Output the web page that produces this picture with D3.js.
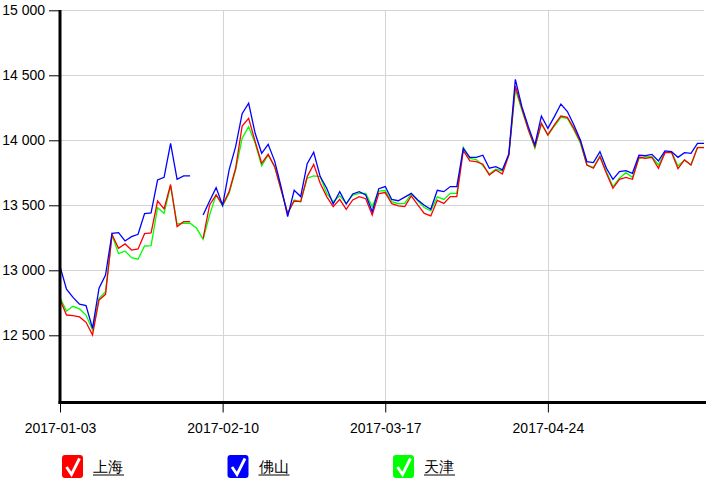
<!DOCTYPE html>
<html>
<head>
<meta charset="utf-8">
<script src="https://cdn.jsdelivr.net/npm/d3@7/dist/d3.min.js"></script>
<style>
  html, body { margin: 0; padding: 0; background: #fff; }
  svg { display: block; }
  text { font-family: "Liberation Sans", Arial, sans-serif; }
</style>
</head>
<body>
<svg id="chart" width="714" height="481"></svg>
<script>
// ---- data ----
const dates = [
  "2017-01-03","2017-01-04","2017-01-05","2017-01-06","2017-01-09","2017-01-10","2017-01-11","2017-01-12","2017-01-13","2017-01-16",
  "2017-01-17","2017-01-18","2017-01-19","2017-01-20","2017-01-22","2017-01-23","2017-01-24","2017-01-25","2017-01-26","2017-02-03",
  "2017-02-04","2017-02-06","2017-02-07","2017-02-08","2017-02-09","2017-02-10","2017-02-13","2017-02-14","2017-02-15","2017-02-16",
  "2017-02-17","2017-02-20","2017-02-21","2017-02-22","2017-02-23","2017-02-24","2017-02-27","2017-02-28","2017-03-01","2017-03-02",
  "2017-03-03","2017-03-06","2017-03-07","2017-03-08","2017-03-09","2017-03-10","2017-03-13","2017-03-14","2017-03-15","2017-03-16",
  "2017-03-17","2017-03-20","2017-03-21","2017-03-22","2017-03-23","2017-03-24","2017-03-27","2017-03-28","2017-03-29","2017-03-30",
  "2017-03-31","2017-04-01","2017-04-05","2017-04-06","2017-04-07","2017-04-10","2017-04-11","2017-04-12","2017-04-13","2017-04-14",
  "2017-04-17","2017-04-18","2017-04-19","2017-04-20","2017-04-21","2017-04-24","2017-04-25","2017-04-26","2017-04-27","2017-04-28",
  "2017-05-02","2017-05-03","2017-05-04","2017-05-05","2017-05-08","2017-05-09","2017-05-10","2017-05-11","2017-05-12","2017-05-15",
  "2017-05-16","2017-05-17","2017-05-18","2017-05-19","2017-05-22","2017-05-23","2017-05-24","2017-05-25","2017-05-26","2017-05-27"
];

const shanghai = [
  12775,12656,12651,12641,12600,12503,12772,12815,13275,13169,
  13203,13156,13164,13282,13287,13533,13472,13660,13336,13374,
  13374,null,13245,13503,13580,13503,13605,13785,14110,14169,
  13990,13823,13892,13797,13618,13438,13533,13528,13721,13815,
  13669,13567,13490,13546,13469,13541,13567,13551,13426,13590,
  13598,13512,13496,13490,13573,13503,13438,13418,13538,13515,
  13567,13567,13920,13841,13836,13816,13733,13772,13741,13887,
  14418,14246,14080,13951,14131,14041,14118,14187,14177,14092,
  13990,13810,13785,13874,13746,13631,13700,13715,13700,13869,
  13862,13869,13785,13905,13908,13782,13849,13810,13944,13944
];

const foshan = [
  13030,12854,12792,12739,12728,12554,12862,12964,13285,13290,
  13226,13259,13277,13436,13441,13695,13715,13977,13700,13726,
  13726,null,13426,13533,13636,13500,13772,13951,14205,14285,
  14054,13900,13969,13840,13640,13413,13615,13567,13820,13908,
  13721,13631,13510,13605,13510,13587,13605,13580,13451,13628,
  13644,13545,13535,13563,13592,13541,13500,13470,13615,13605,
  13644,13644,13938,13868,13868,13885,13785,13797,13772,13895,
  14469,14259,14105,13964,14187,14092,14182,14279,14221,14118,
  14003,13836,13828,13913,13785,13700,13759,13767,13746,13885,
  13882,13892,13841,13918,13913,13869,13905,13900,13977,13977
];

const tianjin = [
  12790,12687,12723,12703,12656,12541,12785,12836,13272,13128,
  13149,13097,13085,13187,13190,13482,13438,13650,13356,13362,
  13362,13323,13238,13426,13580,13495,13592,13772,14015,14105,
  13977,13803,13887,13797,13618,13438,13541,13528,13708,13726,
  13721,13592,13528,13574,13515,13579,13592,13592,13490,13610,
  13614,13528,13512,13515,13588,13534,13483,13458,13565,13545,
  13592,13592,13945,13860,13852,13806,13741,13777,13764,13887,
  14392,14233,14080,13938,14126,14041,14110,14177,14169,14080,
  13977,13810,13792,13879,13759,13644,13708,13751,13715,13859,
  13874,13874,13810,13905,13913,13803,13849,13810,13946,13946
];

const seriesNames = ["上海", "佛山", "天津"];
const seriesColors = ["#ff0000", "#0000ff", "#00ff00"];
const xTickLabels = ["2017-01-03", "2017-02-10", "2017-03-17", "2017-04-24"];
const yTickValues = [12500, 13000, 13500, 14000, 14500, 15000];
const yDomain = [12000, 15000];

// ---- chart ----
(function () {
const svg = d3.select("#chart");
const pLeft = 60, pRight = 704, pTop = 10.3, pBottom = 400.3, axisY = 402.5;

const x = d3.scalePoint().domain(dates).range([pLeft, pRight]);
const y = d3.scaleLinear().domain(yDomain).range([pBottom, pTop]);

const fmt = d3.formatLocale({decimal: ".", thousands: " ", grouping: [3], currency: ["", ""]}).format(",");

// grid
const grid = svg.append("g").attr("stroke", "#d4d4d4").attr("stroke-width", 1);
grid.selectAll("line.h").data(yTickValues).join("line")
  .attr("x1", pLeft).attr("x2", pRight)
  .attr("y1", d => Math.round(y(d)) + 0.5).attr("y2", d => Math.round(y(d)) + 0.5);
grid.selectAll("line.v").data(xTickLabels.slice(1)).join("line")
  .attr("x1", d => Math.round(x(d)) + 0.5).attr("x2", d => Math.round(x(d)) + 0.5)
  .attr("y1", pTop).attr("y2", axisY);

// lines
const allSeries = [shanghai, foshan, tianjin];
const line = d3.line()
  .defined(d => d.v != null)
  .x(d => x(d.date))
  .y(d => y(d.v));

const order = [2, 0, 1];
order.forEach(k => {
  const data = dates.map((dt, i) => ({date: dt, v: allSeries[k][i]}));
  svg.append("path")
    .datum(data)
    .attr("fill", "none")
    .attr("stroke", seriesColors[k])
    .attr("stroke-width", 1.3)
    .attr("stroke-linejoin", "miter")
    .attr("d", line);
});

// y axis
const yAxis = d3.axisLeft(y).tickValues(yTickValues).tickFormat(fmt).tickSize(10).tickPadding(4);
const gy = svg.append("g").attr("transform", `translate(${pLeft - 1},0)`).call(yAxis);
gy.select(".domain").remove();
gy.selectAll("text").attr("font-size", 14).attr("fill", "#000")
  .attr("font-family", "'Liberation Sans', Arial, sans-serif");
gy.selectAll("line").attr("stroke", "#000");

// x axis
const xAxis = d3.axisBottom(x).tickValues(xTickLabels).tickSize(10).tickPadding(11);
const gx = svg.append("g").attr("transform", `translate(0,${axisY})`).call(xAxis);
gx.select(".domain").remove();
gx.selectAll("text").attr("font-size", 14).attr("fill", "#000")
  .attr("font-family", "'Liberation Sans', Arial, sans-serif");
gx.selectAll("line").attr("stroke", "#000");

// thick axis lines
svg.append("line").attr("x1", pLeft).attr("x2", pLeft).attr("y1", pTop - 0.3).attr("y2", axisY + 1.5)
  .attr("stroke", "#000").attr("stroke-width", 3);
svg.append("line").attr("x1", pLeft - 1.5).attr("x2", 706).attr("y1", axisY).attr("y2", axisY)
  .attr("stroke", "#000").attr("stroke-width", 3);

// legend
const legend = svg.append("g");
const items = legend.selectAll("g").data(seriesNames).join("g")
  .attr("transform", (d, i) => `translate(${62 + i * 165.5},455)`);
items.append("rect")
  .attr("width", 21).attr("height", 23).attr("rx", 3)
  .attr("fill", (d, i) => seriesColors[i]);
items.append("path")
  .attr("d", "M4.5,12 L9.5,19.5 L17.5,3.5")
  .attr("fill", "none").attr("stroke", "#fff").attr("stroke-width", 2.8)
  .attr("stroke-linejoin", "miter");
items.append("text")
  .attr("x", 31).attr("y", 17)
  .attr("font-size", 15)
  .attr("font-family", "'Noto Sans CJK SC', sans-serif")
  .attr("fill", "#000")
  .text(d => d);
items.append("line")
  .attr("x1", 31).attr("x2", 62).attr("y1", 20).attr("y2", 20)
  .attr("stroke", "#000").attr("stroke-width", 1);
})();
</script>
</body>
</html>
